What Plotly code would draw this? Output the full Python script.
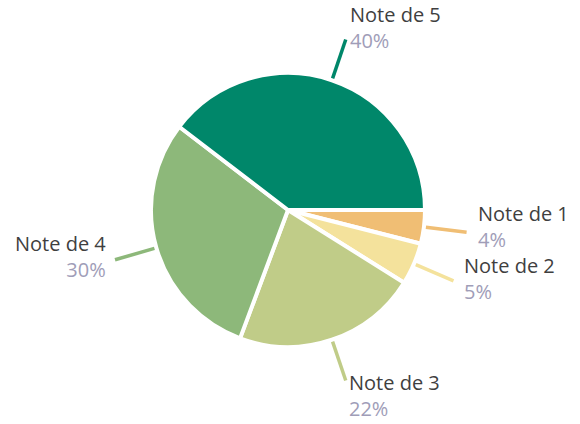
import math
import plotly.graph_objects as go

labels = ["Note de 5", "Note de 4", "Note de 3", "Note de 2", "Note de 1"]
values = [40, 30, 22, 5, 4]
pct_text = ["40%", "30%", "22%", "5%", "4%"]
colors = ["#00876A", "#8DB87A", "#C0CC88", "#F4E29C", "#F0BE74"]

W, H = 580, 424
cx, cy, R = 288, 210, 137

# slices run counterclockwise from 3 o'clock: drawn clockwise in reverse order
fig = go.Figure(go.Pie(
    labels=labels[::-1], values=values[::-1], sort=False, direction="clockwise",
    rotation=90, textinfo="none", hoverinfo="label+percent",
    marker=dict(colors=colors[::-1], line=dict(color="white", width=4)),
    domain=dict(x=[(cx - R) / W, (cx + R) / W], y=[1 - (cy + R) / H, 1 - (cy - R) / H]),
    showlegend=False,
))

total = sum(values)
# label block centre offsets (pixels) relative to leader-line end
offsets = {
    "Note de 5": (3, -12, "left"),
    "Note de 4": (-8, -3, "right"),
    "Note de 3": (2, 15, "left"),
    "Note de 2": (10, -2, "left"),
    "Note de 1": (10, -6, "left"),
}
shapes = []
annotations = []
cum = 0
for lab, v, pt, col in zip(labels, values, pct_text, colors):
    mid = (cum + v / 2) / total * 360.0
    cum += v
    a = math.radians(mid)
    x1, y1 = cx + 139 * math.cos(a), cy - 139 * math.sin(a)
    x2, y2 = cx + 180 * math.cos(a), cy - 180 * math.sin(a)
    shapes.append(dict(type="line", xref="paper", yref="paper",
                       x0=x1 / W, y0=1 - y1 / H, x1=x2 / W, y1=1 - y2 / H,
                       line=dict(color=col, width=3.5)))
    dx, dy, anc = offsets[lab]
    tx, ty = x2 + dx, y2 + dy
    annotations.append(dict(
        xref="paper", yref="paper", x=tx / W, y=1 - ty / H,
        text=f"{lab}<br><span style='color:#A09DB8'>{pt}</span>",
        showarrow=False, xanchor=anc, yanchor="middle", align=anc, borderpad=0,
        font=dict(family="Open Sans", size=20, color="#3F3F3F")))

fig.update_layout(width=W, height=H, margin=dict(l=0, r=0, t=0, b=0),
                  paper_bgcolor="white", plot_bgcolor="white",
                  shapes=shapes, annotations=annotations)
fig.write_html("out.html", config={"displayModeBar": False},
               post_script="document.body.style.margin='0';")
